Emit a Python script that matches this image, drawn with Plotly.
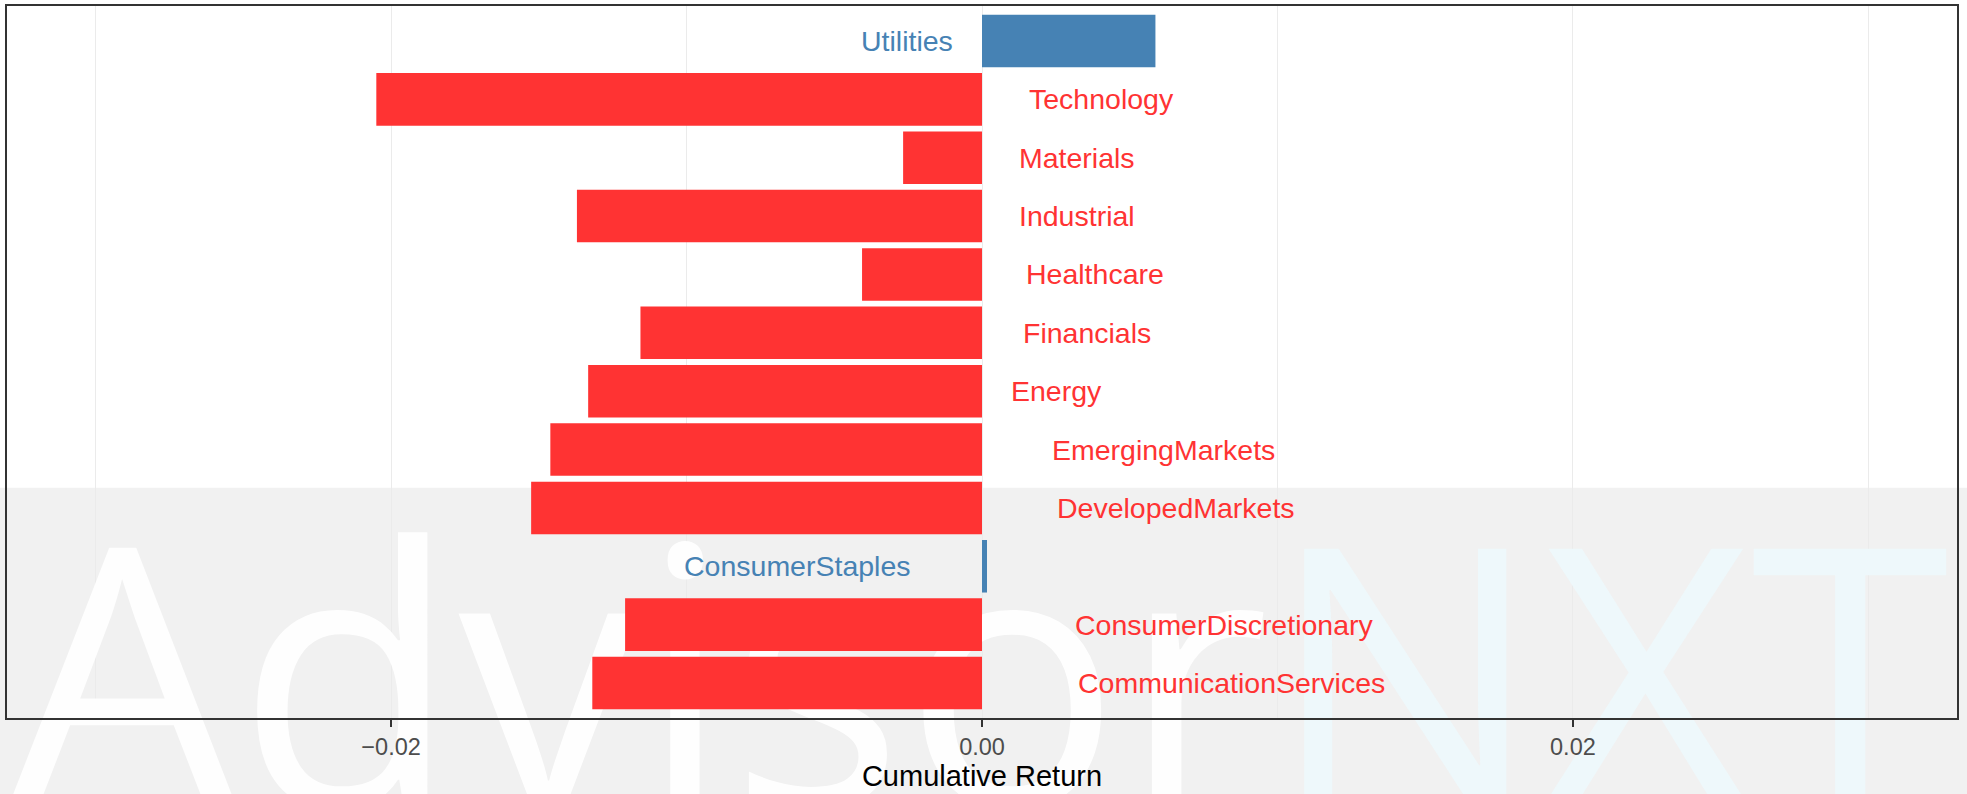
import plotly.graph_objects as go

# ---- data (bottom to top) ----
categories = ["CommunicationServices", "ConsumerDiscretionary", "ConsumerStaples",
              "DevelopedMarkets", "EmergingMarkets", "Energy", "Financials",
              "Healthcare", "Industrial", "Materials", "Technology", "Utilities"]
returns = [-0.01319, -0.01208, 0.00017, -0.01526, -0.01461, -0.01333, -0.01156,
           -0.00406, -0.01371, -0.00267, -0.02050, 0.00587]
tick_values = [-0.02, 0.0, 0.02]
tick_labels = ["\u22120.02", "0.00", "0.02"]
x_title = "Cumulative Return"
watermark_main = "Advisor"
watermark_tail = "NXT"

# ---- style ----
POS = "#4682B4"
NEG = "#FF3333"
FONT = "Liberation Sans"
LABEL_SIZE = 28.5
XR = [-0.033, 0.033]
YR = [-0.6, len(categories) - 0.4]

ARIAL = {"A": 667, "B": 667, "C": 722, "D": 722, "E": 667, "F": 611, "G": 778, "H": 722,
         "I": 278, "M": 833, "N": 722, "R": 722, "S": 667, "T": 611, "U": 722,
         "a": 556, "b": 556, "c": 500, "d": 556, "e": 556, "f": 278, "g": 556, "h": 556,
         "i": 222, "j": 222, "k": 500, "l": 222, "m": 833, "n": 556, "o": 556, "p": 556,
         "q": 556, "r": 333, "s": 500, "t": 278, "u": 556, "v": 500, "w": 722, "x": 500,
         "y": 500, "z": 500}


def text_width(s, size):
    return sum(ARIAL.get(c, 556) for c in s) / 1000.0 * size


colors = [POS if v >= 0 else NEG for v in returns]

fig = go.Figure()

# watermark (on main subplot, drawn below the overlaid bar subplot)
fig.add_trace(go.Scatter(
    x=[-0.0001], y=[0.256], mode="text",
    text=[watermark_main + '<span style="color:#EEF8FC">' + watermark_tail + "</span>"],
    textposition="bottom center",
    textfont=dict(family="Open Sans", size=362, color="rgba(255,255,255,0.92)", weight=400),
    cliponaxis=False, hoverinfo="skip", showlegend=False,
    xaxis="x", yaxis="y"))

# bars on overlaid axes
fig.add_trace(go.Bar(
    x=returns, y=categories, orientation="h",
    marker=dict(color=colors, line=dict(width=0)),
    width=0.9, hoverinfo="x+y", showlegend=False,
    xaxis="x2", yaxis="y2"))

# labels
annotations = []
for cat, val, col in zip(categories, returns, colors):
    w = text_width(cat, LABEL_SIZE)
    if val >= 0:
        anchor, shift = "right", -0.31 * w
    else:
        anchor, shift = "left", 0.31 * w
    annotations.append(dict(
        x=0, y=cat, xref="x2", yref="y2", text=cat, showarrow=False,
        xanchor=anchor, yanchor="middle", xshift=shift, borderpad=0,
        font=dict(family=FONT, size=LABEL_SIZE, color=col)))

fig.update_layout(
    width=1967, height=794,
    margin=dict(l=7, r=10, t=4, b=76),
    paper_bgcolor="white",
    plot_bgcolor="rgba(0,0,0,0)",
    bargap=0.1,
    annotations=annotations,
    shapes=[dict(type="rect", xref="paper", yref="paper", x0=-0.01, x1=1.01,
                 y0=-0.12, y1=0.3233, layer="below", line=dict(width=0),
                 fillcolor="#F1F1F1")],
    xaxis=dict(
        range=XR, tickmode="array", tickvals=tick_values, ticktext=tick_labels,
        showgrid=True, gridcolor="#EBEBEB", gridwidth=1.3,
        minor=dict(dtick=0.01, tick0=0, showgrid=True, gridcolor="#EBEBEB", gridwidth=0.8),
        zeroline=False, showline=True, mirror=True, linecolor="#333333", linewidth=2,
        ticks="outside", ticklen=7, tickwidth=2.2, tickcolor="#333333",
        tickfont=dict(family=FONT, size=23.5, color="#4D4D4D"),
        title=dict(text=x_title, font=dict(family=FONT, size=29, color="black"), standoff=6),
    ),
    yaxis=dict(
        range=[0, 1], showgrid=False, zeroline=False, showticklabels=False, ticks="",
        showline=True, mirror=True, linecolor="#333333", linewidth=2,
    ),
    xaxis2=dict(overlaying="x", range=XR, visible=False, showgrid=False, zeroline=False),
    yaxis2=dict(overlaying="y", type="category", categoryorder="array",
                categoryarray=categories, range=YR, visible=False, showgrid=False),
)

fig.write_html("out.html", config={"displayModeBar": False},
               post_script="document.body.style.margin='0';")
